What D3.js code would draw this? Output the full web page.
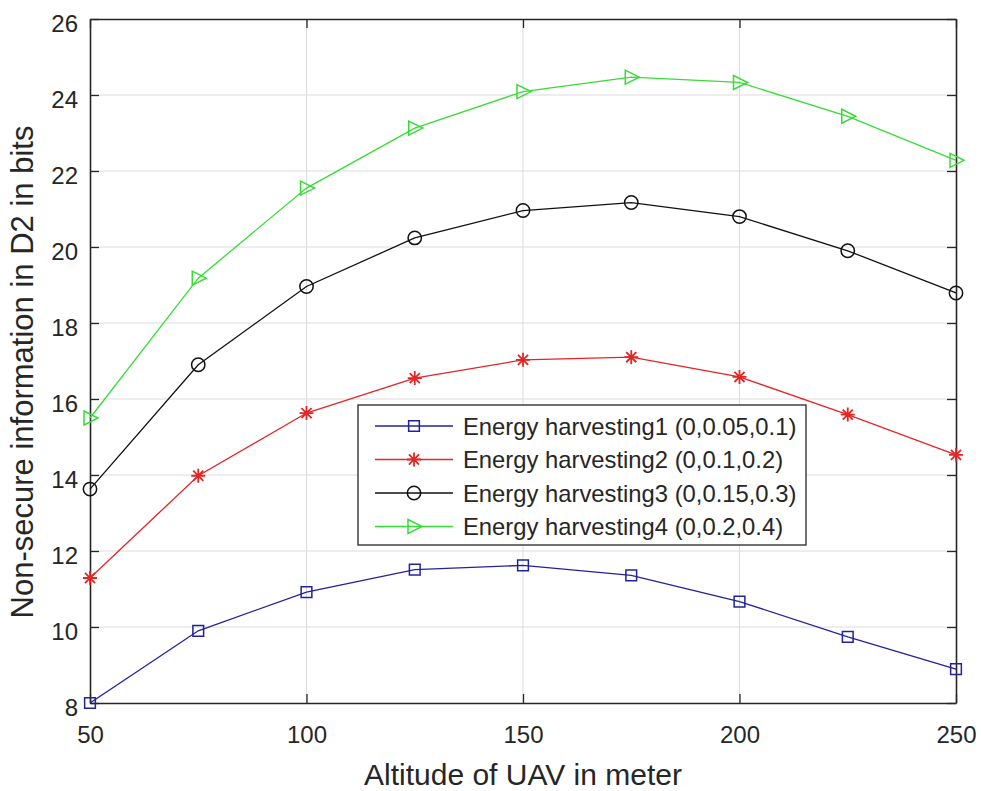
<!DOCTYPE html>
<html>
<head>
<meta charset="utf-8">
<script src="https://cdn.jsdelivr.net/npm/d3@7"></script>
<style>
  body { margin: 0; background: #fff; }
  text { font-family: Arial, "Liberation Sans", sans-serif; fill: #262626; }
</style>
</head>
<body>
<div class="container"></div>
<script>
// altitude values (x) and each curve's values
const altitude = [50, 75, 100, 125, 150, 175, 200, 225, 250]
const harvest1 = [8.0, 9.9, 10.92, 11.51, 11.62, 11.36, 10.67, 9.74, 8.89]
const harvest2 = [11.29, 13.98, 15.63, 16.55, 17.03, 17.1, 16.58, 15.59, 14.53]
const harvest3 = [13.63, 16.9, 18.96, 20.24, 20.96, 21.17, 20.8, 19.9, 18.79]
const harvest4 = [15.5, 19.18, 21.55, 23.13, 24.09, 24.47, 24.33, 23.44, 22.28]
const seriesNames = [
  'Energy harvesting1 (0,0.05,0.1)',
  'Energy harvesting2 (0,0.1,0.2)',
  'Energy harvesting3 (0,0.15,0.3)',
  'Energy harvesting4 (0,0.2,0.4)'
]
const xTicks = [50, 100, 150, 200, 250]
const yTicks = [8, 10, 12, 14, 16, 18, 20, 22, 24, 26]

const series = [
  { name: seriesNames[0], values: harvest1, color: '#22229e', marker: 'square' },
  { name: seriesNames[1], values: harvest2, color: '#e52424', marker: 'star' },
  { name: seriesNames[2], values: harvest3, color: '#111111', marker: 'circle' },
  { name: seriesNames[3], values: harvest4, color: '#38dc38', marker: 'tri' }
]

const W = 981, H = 791
const m = { left: 90, top: 19, right: 25, bottom: 88 }
const iw = W - m.left - m.right
const ih = H - m.top - m.bottom

const x = d3.scaleLinear().domain([50, 250]).range([0, iw])
const y = d3.scaleLinear().domain([8, 26]).range([ih, 0])

const svg = d3.select('.container').append('svg')
  .attr('width', W)
  .attr('height', H)

const g = svg.append('g').attr('transform', `translate(${m.left},${m.top})`)

// grid
g.append('g').selectAll('line')
  .data(xTicks.slice(1, -1))
  .enter().append('line')
  .attr('x1', d => x(d)).attr('x2', d => x(d))
  .attr('y1', 0).attr('y2', ih)
  .attr('stroke', '#dcdcdc').attr('stroke-width', 1)
g.append('g').selectAll('line')
  .data(yTicks.slice(1, -1))
  .enter().append('line')
  .attr('x1', 0).attr('x2', iw)
  .attr('y1', d => y(d)).attr('y2', d => y(d))
  .attr('stroke', '#dcdcdc').attr('stroke-width', 1)

// axes with inward ticks on all four sides
const tickLen = 9
const xAxis = g.append('g').attr('transform', `translate(0,${ih})`)
  .call(d3.axisBottom(x).tickValues(xTicks).tickSizeInner(-tickLen).tickSizeOuter(0).tickPadding(23))
const yAxis = g.append('g')
  .call(d3.axisLeft(y).tickValues(yTicks).tickSizeInner(-tickLen).tickSizeOuter(0).tickPadding(12))
const xTop = g.append('g')
  .call(d3.axisTop(x).tickValues(xTicks).tickSizeInner(-tickLen).tickSizeOuter(0).tickFormat(''))
const yRight = g.append('g').attr('transform', `translate(${iw},0)`)
  .call(d3.axisRight(y).tickValues(yTicks).tickSizeInner(-tickLen).tickSizeOuter(0).tickFormat(''))

;[xAxis, yAxis, xTop, yRight].forEach(a => {
  a.select('.domain').attr('stroke', '#262626').attr('stroke-width', 1.6)
  a.selectAll('.tick line').attr('stroke', '#262626').attr('stroke-width', 1.3)
  a.selectAll('.tick text').style('font-size', '24px').attr('fill', '#262626')
})
yAxis.selectAll('.tick text').attr('dy', '0.5em')

// markers
function markerPath(type) {
  if (type === 'square') return d3.symbol(d3.symbolSquare, 115)()
  if (type === 'circle') return d3.symbol(d3.symbolCircle, 140)()
  if (type === 'star') {
    const r = 7, q = r * 0.72
    return `M${-r},0L${r},0M0,${-r}L0,${r}M${-q},${-q}L${q},${q}M${-q},${q}L${q},${-q}`
  }
  // right-pointing triangle
  return 'M-6,-7L8,0L-6,7Z'
}

const line = d3.line()
  .x((d, i) => x(altitude[i]))
  .y(d => y(d))

series.forEach(s => {
  g.append('path')
    .datum(s.values)
    .attr('d', line)
    .attr('fill', 'none')
    .attr('stroke', s.color)
    .attr('stroke-width', 1.3)

  g.append('g').selectAll('path')
    .data(s.values)
    .enter().append('path')
    .attr('transform', (d, i) => `translate(${x(altitude[i])},${y(d)})`)
    .attr('d', markerPath(s.marker))
    .attr('fill', 'none')
    .attr('stroke', s.color)
    .attr('stroke-width', s.marker === 'star' ? 1.8 : 1.5)
})

// axis labels
svg.append('text')
  .attr('x', m.left + iw / 2)
  .attr('y', 785)
  .attr('text-anchor', 'middle')
  .style('font-size', '30px')
  .text('Altitude of UAV in meter')

svg.append('text')
  .attr('transform', 'translate(33,372) rotate(-90)')
  .attr('text-anchor', 'middle')
  .style('font-size', '31px')
  .text('Non-secure information in D2 in bits')

// legend
const lg = svg.append('g').attr('transform', 'translate(358,405)')
lg.append('rect')
  .attr('width', 448).attr('height', 140)
  .attr('fill', '#fff')
  .attr('stroke', '#262626').attr('stroke-width', 1.3)

const rows = lg.selectAll('g.row')
  .data(series)
  .enter().append('g')
  .attr('class', 'row')
  .attr('transform', (d, i) => `translate(0,${21 + i * 33.5})`)

rows.append('line')
  .attr('x1', 17).attr('x2', 95)
  .attr('stroke', d => d.color).attr('stroke-width', 1.3)
rows.append('path')
  .attr('transform', 'translate(56,0)')
  .attr('d', d => markerPath(d.marker))
  .attr('fill', 'none')
  .attr('stroke', d => d.color)
  .attr('stroke-width', d => d.marker === 'star' ? 1.8 : 1.5)
rows.append('text')
  .attr('x', 105)
  .attr('dy', '0.36em')
  .style('font-size', '23.8px')
  .text(d => d.name)
</script>
</body>
</html>
